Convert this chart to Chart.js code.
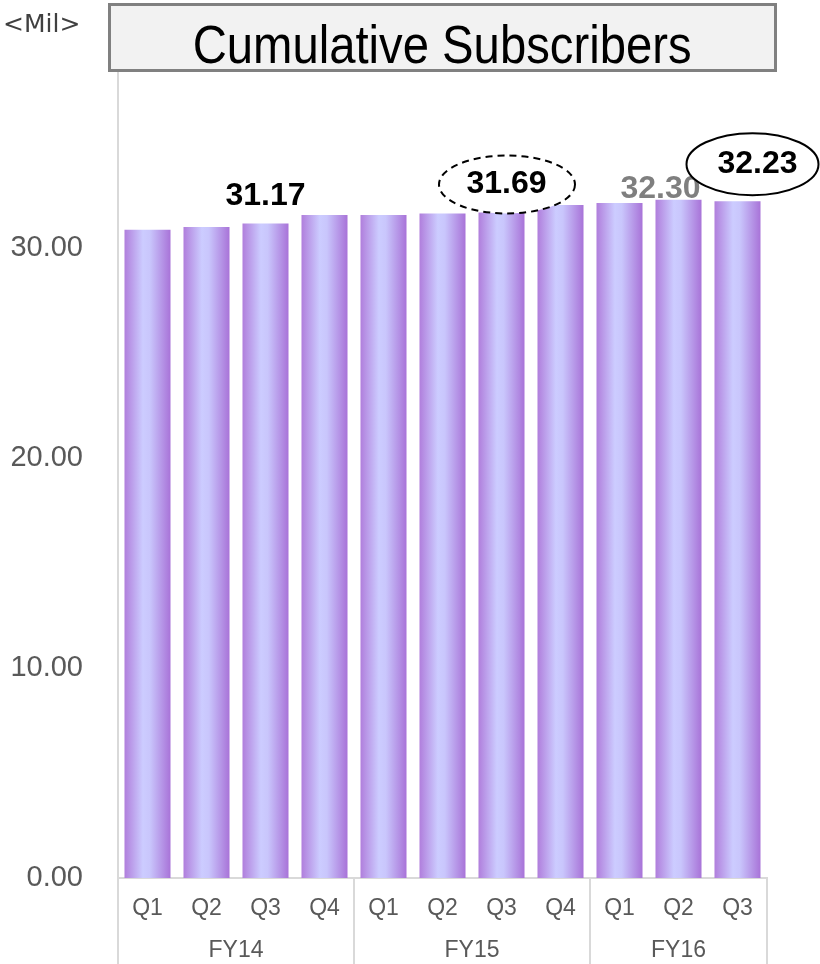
<!DOCTYPE html>
<html>
<head>
<meta charset="utf-8">
<script src="https://cdn.jsdelivr.net/npm/chart.js@4"></script>
<style>
  html, body { margin: 0; padding: 0; background: #ffffff; }
  #wrap { position: relative; width: 820px; height: 964px; overflow: hidden; }
  #c { position: absolute; left: 0; top: 0; }
  #unit { position: absolute; left: 3px; top: 11px; font: 25px "DejaVu Sans", sans-serif; line-height: 1; color: #404040; white-space: nowrap; }
  #titlebox { position: absolute; left: 108px; top: 3px; width: 663px; height: 63px; border: 3px solid #808080; background: #f2f2f2; }
  #titletext { position: absolute; left: 0; width: 100%; top: 11px; text-align: center; font: 54px "Liberation Sans", Arial, sans-serif; line-height: 1; color: #000; white-space: nowrap; }
  #titletext span { display: inline-block; transform: scaleX(0.875); transform-origin: center top; }
</style>
</head>
<body>
<div id="wrap">
  <canvas id="c" width="820" height="964"></canvas>
  <div id="unit">&lt;Mil&gt;</div>
  <div id="titlebox"><div id="titletext"><span>Cumulative Subscribers</span></div></div>
</div>
<script>
// ---- data ----
const quarters = ['Q1', 'Q2', 'Q3', 'Q4', 'Q1', 'Q2', 'Q3', 'Q4', 'Q1', 'Q2', 'Q3'];
const fiscalYears = ['FY14', 'FY15', 'FY16'];
const quartersPerYear = [4, 4, 3];
const subscribers = [30.87, 31.00, 31.17, 31.57, 31.57, 31.64, 31.69, 32.05, 32.14, 32.30, 32.23];
const labelledBars = [2, 6, 9, 10];
const yTicks = [0, 10, 20, 30];

// ---- derived group boundaries for the fiscal-year axis ----
const groupBounds = [-0.5];
const groupCenters = [];
{
  let start = 0;
  quartersPerYear.forEach(n => {
    groupCenters.push(start + (n - 1) / 2);
    start += n;
    groupBounds.push(start - 0.5);
  });
}
const boundaryIdx = [0];
{ let s = 0; quartersPerYear.forEach(n => { s += n; boundaryIdx.push(s); }); }

const BAR_PCT = 0.78;
const AXIS_COLOR = '#d9d9d9';
const TEXT_COLOR = '#595959';
const FONT = '"Liberation Sans", Arial, sans-serif';

function barGradient(context) {
  const chart = context.chart;
  const xs = chart.scales && chart.scales.x;
  if (!xs || context.dataIndex === undefined) return '#c0a8f0';
  const cx = xs.getPixelForValue(context.dataIndex);
  const half = (xs.width / quarters.length) * BAR_PCT / 2;
  if (!isFinite(cx) || !isFinite(half) || half <= 0) return '#c0a8f0';
  const g = chart.ctx.createLinearGradient(cx - half, 0, cx + half, 0);
  g.addColorStop(0, '#b07edc');
  g.addColorStop(0.4, '#ccccff');
  g.addColorStop(0.55, '#c9c6fc');
  g.addColorStop(1, '#a873d8');
  return g;
}

// annotation styles (offsets from bar top centre)
const labelStyles = {
  2:  { dx: 0,   dy: -27, color: '#000000' },
  6:  { dx: 5,   dy: -28, color: '#000000', ellipse: { dx: 5.5, dy: -28, rx: 68, ry: 29, dash: [7, 5] } },
  9:  { dx: -18, dy: -11, color: '#7f7f7f' },
  10: { dx: 20,  dy: -37, color: '#000000', ellipse: { dx: 15, dy: -37, rx: 66, ry: 31, dash: [] } }
};

const valueLabels = {
  id: 'valueLabels',
  afterDatasetsDraw(chart) {
    const meta = chart.getDatasetMeta(0);
    const ctx = chart.ctx;
    ctx.save();
    labelledBars.forEach(i => {
      const el = meta.data[i];
      const st = labelStyles[i];
      if (!el || !st) return;
      if (st.ellipse) {
        const e = st.ellipse;
        ctx.beginPath();
        ctx.ellipse(el.x + e.dx, el.y + e.dy, e.rx, e.ry, 0, 0, Math.PI * 2);
        ctx.fillStyle = '#ffffff';
        ctx.fill();
        ctx.setLineDash(e.dash);
        ctx.lineWidth = 2;
        ctx.strokeStyle = '#000000';
        ctx.stroke();
        ctx.setLineDash([]);
      }
      ctx.font = 'bold 32px ' + FONT;
      ctx.fillStyle = st.color;
      ctx.textAlign = 'center';
      ctx.textBaseline = 'middle';
      ctx.fillText(subscribers[i].toFixed(2), el.x + st.dx, el.y + st.dy);
    });
    ctx.restore();
  }
};

new Chart(document.getElementById('c'), {
  type: 'bar',
  data: {
    labels: quarters,
    datasets: [{
      data: subscribers,
      backgroundColor: barGradient,
      borderWidth: 0,
      barPercentage: BAR_PCT,
      categoryPercentage: 1.0
    }]
  },
  options: {
    responsive: false,
    devicePixelRatio: 1,
    animation: false,
    layout: { padding: { top: 38, right: 53, left: 0, bottom: 0 } },
    plugins: {
      legend: { display: false },
      title: { display: false },
      tooltip: { enabled: false }
    },
    scales: {
      y: {
        min: 0,
        max: 40,
        afterBuildTicks: (axis) => { axis.ticks = yTicks.map(v => ({ value: v })); },
        afterFit: (scale) => { scale.width = 118; scale.paddingTop = 0; scale.paddingBottom = 0; },
        grid: { display: false, drawTicks: false },
        border: { display: true, color: AXIS_COLOR, width: 2 },
        ticks: {
          padding: 35,
          color: TEXT_COLOR,
          font: { family: FONT, size: 29 },
          callback: (v) => Number(v).toFixed(2)
        }
      },
      x: {
        type: 'category',
        position: 'bottom',
        offset: true,
        afterFit: (scale) => { scale.height = 50; },
        grid: {
          offset: true,
          drawOnChartArea: false,
          drawTicks: true,
          tickLength: 52,
          lineWidth: 2,
          color: (ctx) => (ctx.type !== 'tick' || boundaryIdx.includes(ctx.index)) ? AXIS_COLOR : 'rgba(0,0,0,0)'
        },
        border: { display: true, color: AXIS_COLOR, width: 2 },
        ticks: {
          padding: -35,
          maxRotation: 0,
          autoSkip: false,
          color: TEXT_COLOR,
          font: { family: FONT, size: 23 }
        }
      },
      x2: {
        type: 'linear',
        position: 'bottom',
        min: groupBounds[0],
        max: groupBounds[groupBounds.length - 1],
        offset: false,
        afterBuildTicks: (axis) => {
          const vals = [];
          groupBounds.forEach((b, k) => {
            vals.push(b);
            if (k < groupCenters.length) vals.push(groupCenters[k]);
          });
          axis.ticks = vals.map(v => ({ value: v }));
        },
        afterFit: (scale) => { scale.height = 36; },
        grid: {
          offset: false,
          drawOnChartArea: false,
          drawTicks: true,
          tickLength: 40,
          lineWidth: 2,
          color: (ctx) => (ctx.tick && groupBounds.includes(ctx.tick.value)) ? AXIS_COLOR : 'rgba(0,0,0,0)'
        },
        border: { display: false },
        ticks: {
          padding: -31,
          maxRotation: 0,
          autoSkip: false,
          color: TEXT_COLOR,
          font: { family: FONT, size: 23 },
          callback: (v) => {
            const k = groupCenters.indexOf(v);
            return k >= 0 ? fiscalYears[k] : '';
          }
        }
      }
    }
  },
  plugins: [valueLabels]
});
</script>
</body>
</html>
